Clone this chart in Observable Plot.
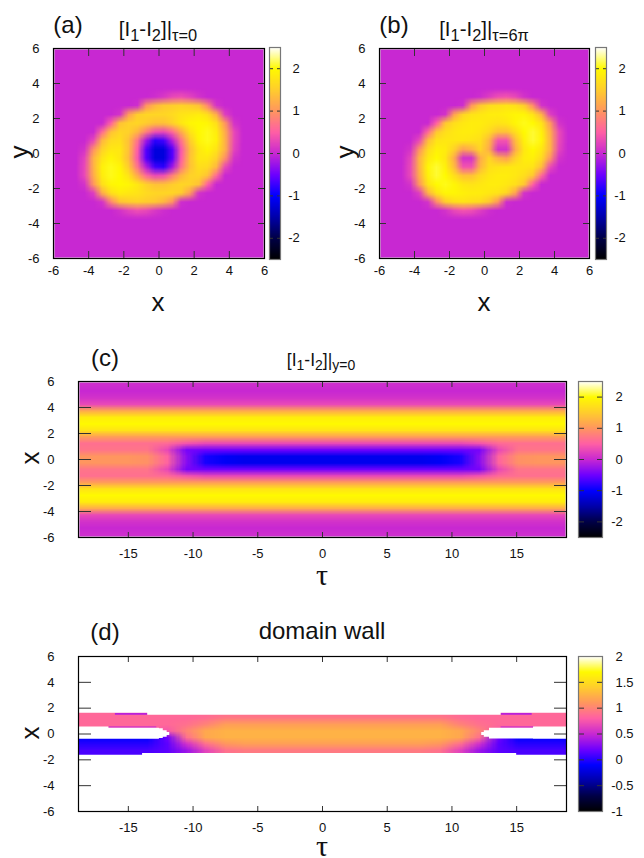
<!DOCTYPE html>
<html><head><meta charset="utf-8">
<script src="https://cdn.jsdelivr.net/npm/d3@7"></script>
<script src="https://cdn.jsdelivr.net/npm/@observablehq/plot@0.6"></script>
<style>
html,body{margin:0;padding:0;background:#fff}
#page{position:relative;width:644px;height:858px;overflow:hidden;font-family:"Liberation Sans",Arial,sans-serif;color:#111}
#page svg{position:absolute;background:transparent;overflow:visible}
.t{position:absolute;white-space:nowrap;line-height:1;transform:translate(-50%,-50%)}
.t sub{font-size:.8em;line-height:0;vertical-align:-.3em}
</style></head><body><div id="page"></div>
<script>
const palette = ["#000000","#000046","#0000aa","#0000ff","#6e00ff","#c828d2","#ff5fa5","#ff965f","#ffcd2d","#fffa00","#ffffff"];
const ticksSquare = [-6,-4,-2,0,2,4,6];
const ticksTau = [-15,-10,-5,0,5,10,15];
const ticksBar = [-2,-1,0,1,2];
const ticksBarWall = [-1,-0.5,0,0.5,1,1.5,2];
const tauLimit = 18.85;
const e = Array(24).fill(0);

// panel (a): rows from y=5.75 down to y=-5.75, columns x=-5.75..5.75
const fieldA = [e,e,e,e,e,
[0,0,0,0,0,0,0,0,0,0,0,.05,.15,.3,.35,.25,.1,0,0,0,0,0,0,0],
[0,0,0,0,0,0,0,0,0,.05,.95,1.3,1.45,1.5,1.55,1.5,1.4,.85,.1,0,0,0,0,0],
[0,0,0,0,0,0,0,.1,1.05,1.5,1.6,1.6,1.6,1.65,1.75,1.8,1.85,1.7,1.2,.2,0,0,0,0],
[0,0,0,0,0,0,.5,1.4,1.55,1.6,1.5,1.4,1.4,1.55,1.8,1.95,2,1.95,1.7,1,.1,0,0,0],
[0,0,0,0,0,.6,1.4,1.6,1.55,1.3,.8,.35,.3,.6,1.2,1.75,2,2.05,1.85,1.2,.3,0,0,0],
[0,0,0,0,.3,1.3,1.65,1.7,1.4,.7,-.2,-.8,-.7,-.1,.7,1.5,1.95,2.05,1.9,1.25,.3,0,0,0],
[0,0,0,.1,.95,1.55,1.8,1.8,1.4,.5,-.6,-1.2,-1.2,-.6,.45,1.35,1.8,1.95,1.75,1.25,.25,0,0,0],
[0,0,0,.25,1.25,1.75,1.95,1.8,1.35,.45,-.6,-1.2,-1.2,-.6,.5,1.4,1.8,1.8,1.55,.95,.1,0,0,0],
[0,0,0,.3,1.25,1.9,2.05,1.95,1.5,.7,-.1,-.7,-.8,-.2,.7,1.4,1.7,1.65,1.3,.3,0,0,0,0],
[0,0,0,.3,1.2,1.85,2.05,2,1.75,1.2,.6,.3,.35,.8,1.3,1.55,1.6,1.4,.6,0,0,0,0,0],
[0,0,0,.1,1,1.7,1.95,2,1.95,1.8,1.55,1.4,1.4,1.5,1.6,1.55,1.4,.5,0,0,0,0,0,0],
[0,0,0,0,.2,1.2,1.7,1.85,1.8,1.75,1.65,1.6,1.6,1.6,1.5,1.05,.1,0,0,0,0,0,0,0],
[0,0,0,0,0,.1,.85,1.4,1.5,1.55,1.5,1.45,1.3,.95,.05,0,0,0,0,0,0,0,0,0],
[0,0,0,0,0,0,0,.1,.25,.35,.3,.15,.05,0,0,0,0,0,0,0,0,0,0,0],
e,e,e,e,e];

// panel (b)
const fieldB = [e,e,e,e,e,
[0,0,0,0,0,0,0,0,0,0,0,.05,.2,.35,.4,.3,.1,0,0,0,0,0,0,0],
[0,0,0,0,0,0,0,0,0,.05,1,1.45,1.65,1.7,1.75,1.7,1.5,.9,.1,0,0,0,0,0],
[0,0,0,0,0,0,0,.1,1.1,1.6,1.75,1.8,1.85,1.85,1.9,1.95,1.95,1.75,1.25,.2,0,0,0,0],
[0,0,0,0,0,0,.5,1.45,1.7,1.8,1.85,1.85,1.8,1.75,1.8,1.95,2.05,2,1.75,1,.1,0,0,0],
[0,0,0,0,0,.6,1.45,1.7,1.8,1.85,1.85,1.8,1.65,1.4,1.4,1.7,2,2.1,1.9,1.2,.3,0,0,0],
[0,0,0,0,.3,1.35,1.75,1.8,1.8,1.8,1.75,1.7,1.3,.4,.4,1.35,1.9,2.1,1.95,1.25,.3,0,0,0],
[0,0,0,.1,.95,1.65,1.9,1.85,1.55,1.1,1.25,1.6,1.2,.1,.1,1.2,1.8,2,1.8,1.25,.25,0,0,0],
[0,0,0,.25,1.25,1.8,2,1.8,1.2,.1,.1,1.2,1.6,1.25,1.1,1.55,1.85,1.9,1.65,.95,.1,0,0,0],
[0,0,0,.3,1.25,1.95,2.1,1.9,1.35,.4,.4,1.3,1.7,1.75,1.8,1.8,1.8,1.75,1.35,.3,0,0,0,0],
[0,0,0,.3,1.2,1.9,2.1,2,1.7,1.4,1.4,1.65,1.8,1.85,1.85,1.8,1.7,1.45,.6,0,0,0,0,0],
[0,0,0,.1,1,1.75,2,2.05,1.95,1.8,1.75,1.8,1.85,1.85,1.8,1.7,1.45,.5,0,0,0,0,0,0],
[0,0,0,0,.2,1.25,1.75,1.95,1.95,1.9,1.85,1.85,1.8,1.75,1.6,1.1,.1,0,0,0,0,0,0,0],
[0,0,0,0,0,.1,.9,1.5,1.7,1.75,1.7,1.65,1.45,1,.05,0,0,0,0,0,0,0,0,0],
[0,0,0,0,0,0,0,.1,.3,.4,.35,.2,.05,0,0,0,0,0,0,0,0,0,0,0],
e,e,e,e,e];

// panel (c): rows x=5.75..-5.75, 25 columns across tau
const c1 = [.65,.65,.65,.65,.6,.4,.3,.3,.3,.3,.3,.3,.3,.3,.3,.3,.3,.3,.3,.3,.4,.6,.65,.65,.65];
const c2 = [.7,.7,.7,.7,.3,-.45,-.5,-.5,-.5,-.5,-.5,-.5,-.5,-.5,-.5,-.5,-.5,-.5,-.5,-.5,-.45,.3,.7,.7,.7];
const c3 = [1,1,1,.95,.55,-.35,-.9,-1.05,-1.1,-1.1,-1.1,-1.1,-1.1,-1.1,-1.1,-1.1,-1.1,-1.1,-1.05,-.9,-.35,.55,.95,1,1];
const outerProfile = [.05,0,.1,.3,1.2,1.85,2,1.75,1.05];
const flatRows = outerProfile.map(v => Array(25).fill(v));
const fieldC = [...flatRows, c1, c2, c3, c3, c2, c1, ...[...flatRows].reverse()];

// panel (d): rows x=1.75..-1.75, 25 columns across tau
const d1 = [.85,.85,.85,.85,.85,.85,.85,.85,.85,.85,.85,.85,.85,.85,.85,.85,.85,.85,.85,.85,.85,.85,.85,.85,.85];
const d2 = [.85,.85,.85,.85,.85,.85,.88,.95,.95,.95,.95,.95,.95,.95,.95,.95,.95,.95,.95,.88,.85,.85,.85,.85,.85];
const d3 = [.85,.85,.85,.85,.85,.9,1,1.15,1.15,1.15,1.15,1.15,1.15,1.15,1.15,1.15,1.15,1.15,1.15,1,.9,.85,.85,.85,.85];
const d4 = [.85,.85,.85,.85,.75,1,1.2,1.25,1.25,1.25,1.25,1.25,1.25,1.25,1.25,1.25,1.25,1.25,1.25,1.2,1,.75,.85,.85,.85];
const d5 = [-.1,-.1,-.1,-.1,.2,.9,1.2,1.25,1.25,1.25,1.25,1.25,1.25,1.25,1.25,1.25,1.25,1.25,1.25,1.2,.9,.2,-.1,-.1,-.1];
const d6 = [0,0,0,0,.15,.55,.9,1.1,1.15,1.15,1.15,1.15,1.15,1.15,1.15,1.15,1.15,1.15,1.1,.9,.55,.15,0,0,0];
const d7 = [.1,.1,.1,.1,.15,.35,.65,.9,.95,.95,.95,.95,.95,.95,.95,.95,.95,.95,.9,.65,.35,.15,.1,.1,.1];
const fieldD = [d1,d2,d3,d4,d5,d6,d7,d7];

// white outline of the wall in (d)
const topTau = [-18.85,-13.5,13.8,18.85];
const topEdge = [1.6,1.45,1.6,1.6];
const botTau = [-18.85,-13.9,15,18.85];
const botEdge = [-1.65,-1.5,-1.65,-1.65];
const gapLeftTau = [-18.85,-16.5,-12.6,-12.3,-12.0,-11.8];
const gapLeftTop = [.55,.45,.4,.25,.12,.12];
const gapLeftBot = [-.4,-.4,-.35,-.25,-.12,-.12];
const gapRightTau = [12.3,12.5,12.9,16.3,18.85];
const gapRightTop = [.12,.25,.45,.55,.55];
const gapRightBot = [-.12,-.25,-.38,-.4,-.4];
const stripTau1 = [-16,-16.5,13.8,13.8];
const stripTau2 = [-13.5,-12.8,16.2,16.4];
const stripX1 = [1.45,.45,1.45,.45];
const stripX2 = [1.6,.55,1.6,.55];
const stripValue = [.45,.5,.45,.5];

const page = document.getElementById("page");
const fmt = d => String(d);
const blank = () => "";
const plotStyle = {background: "transparent", fontFamily: '"Liberation Sans",Arial,sans-serif', fontSize: "13px", color: "#111"};
const colorScale = ([a, b]) => ({type: "linear", domain: palette.map((_, i) => a + (b - a) * i / 10), range: palette, clamp: true});

function label(html, x, y, size, family, extra = "") {
  const s = document.createElement("span");
  s.className = "t";
  s.innerHTML = html;
  s.style.cssText = `left:${x}px;top:${y}px;font-size:${size}px;${family ? `font-family:${family};` : ""}${extra}`;
  page.appendChild(s);
}
function place(svg, left, top) {
  svg.style.left = left + "px";
  svg.style.top = top + "px";
  page.appendChild(svg);
}
function heat({x0, x1, y0, y1, xDomain, xTicks, field, vDomain, tickLenX, tickLenY, padX, padY, edge = false, extra = []}) {
  const mL = 44, mR = 10, mT = 6, mB = 30;
  const svg = Plot.plot({
    width: x1 - x0 + mL + mR, height: y1 - y0 + mT + mB,
    marginLeft: mL, marginRight: mR, marginTop: mT, marginBottom: mB,
    style: plotStyle,
    x: {domain: xDomain, label: null}, y: {domain: [-6, 6], label: null},
    color: colorScale(vDomain),
    marks: [
      Plot.raster(field.flat(), {width: field[0].length, height: field.length,
        x1: xDomain[0], x2: xDomain[1], y1: field.yTop ?? 6, y2: field.yBottom ?? -6, fill: d => d}),
      ...extra,
      edge ? Plot.frame({inset: 1, stroke: "#e6e6e6", strokeWidth: 1, strokeDasharray: "1,1"}) : null,
      Plot.axisX(xTicks, {anchor: "bottom", tickSize: -tickLenX, tickPadding: padX, tickFormat: fmt, label: null, stroke: "#333", fontSize: 13}),
      Plot.axisX(xTicks, {anchor: "top", tickSize: -tickLenX, tickFormat: blank, label: null, stroke: "#333"}),
      Plot.axisY(ticksSquare, {anchor: "left", tickSize: -tickLenY, tickPadding: padY, tickFormat: fmt, label: null, stroke: "#333", fontSize: 13}),
      Plot.axisY(ticksSquare, {anchor: "right", tickSize: -tickLenY, tickFormat: blank, label: null, stroke: "#333"}),
      Plot.frame({stroke: "#000", strokeWidth: 1.2})
    ]
  });
  place(svg, x0 - mL, y0 - mT);
}
function bar({x0, x1, y0, y1, vDomain, ticks, tickLen, pad}) {
  const mL = 2, mR = 42, mT = 6, mB = 6;
  const n = 200;
  const levels = Array.from({length: n}, (_, i) => vDomain[1] - (vDomain[1] - vDomain[0]) * (i + .5) / n);
  const svg = Plot.plot({
    width: x1 - x0 + mL + mR, height: y1 - y0 + mT + mB,
    marginLeft: mL, marginRight: mR, marginTop: mT, marginBottom: mB,
    style: plotStyle,
    x: {domain: [0, 1], axis: null}, y: {domain: vDomain, label: null},
    color: colorScale(vDomain),
    marks: [
      Plot.raster(levels, {width: 1, height: levels.length, x1: 0, x2: 1, y1: vDomain[1], y2: vDomain[0], fill: d => d}),
      Plot.axisY(ticks, {anchor: "left", tickSize: -tickLen, tickFormat: blank, label: null, stroke: "#333"}),
      Plot.axisY(ticks.filter(t => t >= 0), {anchor: "right", tickSize: -tickLen, tickPadding: tickLen + pad, tickFormat: fmt, label: null, stroke: "#333", fontSize: 13}),
      Plot.axisY(ticks.filter(t => t < 0), {anchor: "right", tickSize: -tickLen, tickPadding: tickLen + pad - 4.3, tickFormat: fmt, label: null, stroke: "#333", fontSize: 13}),
      Plot.frame({stroke: "#777", strokeWidth: 1.2})
    ]
  });
  place(svg, x0 - mL, y0 - mT);
}

const full = [-2.5, 2.5];
const square = {xDomain: [-6, 6], xTicks: ticksSquare, tickLenX: 7, tickLenY: 7, padX: 14, padY: 21, edge: true};
const wide = {xDomain: [-tauLimit, tauLimit], xTicks: ticksTau, tickLenX: 5, tickLenY: 13, padX: 16, padY: 37};
heat({x0: 53, x1: 264, y0: 48, y1: 258, field: fieldA, vDomain: full, ...square});
bar({x0: 269, x1: 280, y0: 47, y1: 259, vDomain: full, ticks: ticksBar, tickLen: 4, pad: 12});
heat({x0: 379, x1: 589, y0: 48, y1: 258, field: fieldB, vDomain: full, ...square});
bar({x0: 595, x1: 606, y0: 47, y1: 259, vDomain: full, ticks: ticksBar, tickLen: 4, pad: 12});
heat({x0: 78, x1: 566, y0: 381, y1: 537, field: fieldC, vDomain: full, edge: true, ...wide});
bar({x0: 578, x1: 602, y0: 381, y1: 537, vDomain: full, ticks: ticksBar, tickLen: 6, pad: 13});

fieldD.yTop = 2; fieldD.yBottom = -2;
const wallV = [-1, 2];
const white = {fill: "white", curve: "step-after"};
heat({x0: 78, x1: 566, y0: 656, y1: 811, field: fieldD, vDomain: wallV, ...wide,
  extra: [
    Plot.rect(stripValue, {x1: stripTau1, x2: stripTau2, y1: stripX1, y2: stripX2, fill: d => d}),
    Plot.areaY(topEdge, {x: topTau, y1: topEdge, y2: () => 2.3, ...white}),
    Plot.areaY(botEdge, {x: botTau, y1: botEdge, y2: () => -2.3, ...white}),
    Plot.areaY(gapLeftTop, {x: gapLeftTau, y1: gapLeftTop, y2: gapLeftBot, ...white}),
    Plot.areaY(gapRightTop, {x: gapRightTau, y1: gapRightTop, y2: gapRightBot, ...white})
  ]});
bar({x0: 578, x1: 602, y0: 656, y1: 811, vDomain: wallV, ticks: ticksBarWall, tickLen: 6, pad: 13});

const serif = '"Liberation Serif",serif';
label("(a)", 68, 25, 24); label("(b)", 394, 25, 24); label("(c)", 105, 358, 24); label("(d)", 105, 632, 24);
label("[I<sub>1</sub>-I<sub>2</sub>]|<sub>τ=0</sub>", 158, 29, 20.5);
label("[I<sub>1</sub>-I<sub>2</sub>]|<sub>τ=6π</sub>", 484, 29, 20.5);
label("[I<sub>1</sub>-I<sub>2</sub>]|<sub>y=0</sub>", 321, 361, 17.5);
label("domain wall", 322, 631, 24);
label("x", 158, 302, 26); label("x", 484, 302, 26);
const rot = "transform:translate(-50%,-50%) rotate(-90deg);";
label("y", 19, 152, 26, "", rot);
label("y", 345, 152, 26, "", rot);
label("x", 30, 458, 26, "", rot);
label("x", 30, 733, 26, "", rot);
label("τ", 322, 575, 30, serif); label("τ", 322, 846, 30, serif);
</script></body></html>
